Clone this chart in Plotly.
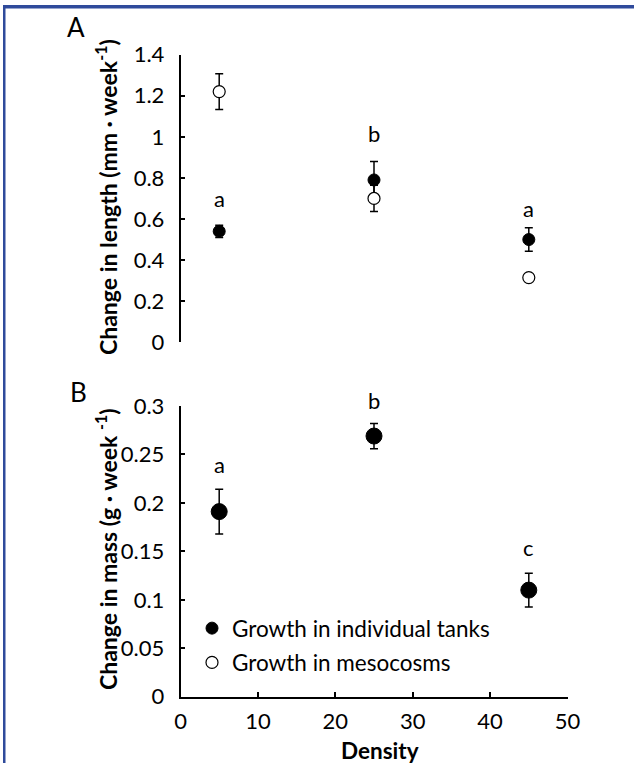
import plotly.graph_objects as go

# ---------------- data ----------------
density = [5, 25, 45]

length_tanks = [0.54, 0.79, 0.50]
length_tanks_err = [0.03, 0.09, 0.057]
length_meso = [1.22, 0.70, 0.315]
length_meso_err = [0.087, 0.064, 0.012]

mass_tanks = [0.191, 0.269, 0.110]
mass_tanks_err = [0.023, 0.013, 0.0174]

length_letters = ["a", "b", "a"]
mass_letters = ["a", "b", "c"]

x_ticks = [0, 10, 20, 30, 40, 50]
length_ticks = [0, 0.2, 0.4, 0.6, 0.8, 1.0, 1.2, 1.4]
length_ticklabels = ["0", "0.2", "0.4", "0.6", "0.8", "1", "1.2", "1.4"]
mass_ticks = [0, 0.05, 0.10, 0.15, 0.20, 0.25, 0.30]
mass_ticklabels = ["0", "0.05", "0.1", "0.15", "0.2", "0.25", "0.3"]

series_names = ["Growth in individual tanks", "Growth in mesocosms"]

# ---------------- layout helpers ----------------
W, H = 634, 763
FONT = "Lato"


def px(x):
    return x / W


def py(y):
    return 1 - y / H


fig = go.Figure()

err_style = dict(type="data", color="black", thickness=1.5, width=4)

# top panel
fig.add_trace(go.Scatter(
    x=density, y=length_tanks, mode="markers", name=series_names[0],
    marker=dict(symbol="circle", size=12, color="black", line=dict(color="black", width=1)),
    error_y=dict(array=length_tanks_err, **err_style),
    xaxis="x", yaxis="y", cliponaxis=False, legendgroup="g1", showlegend=True))
fig.add_trace(go.Scatter(
    x=density, y=length_meso, mode="markers", name=series_names[1],
    marker=dict(symbol="circle", size=12, color="white", line=dict(color="black", width=1.2)),
    error_y=dict(array=length_meso_err, **err_style),
    xaxis="x", yaxis="y", cliponaxis=False, legendgroup="g2", showlegend=True))

# bottom panel
fig.add_trace(go.Scatter(
    x=density, y=mass_tanks, mode="markers", name=series_names[0],
    marker=dict(symbol="circle", size=16, color="black", line=dict(color="black", width=1)),
    error_y=dict(array=mass_tanks_err, **err_style),
    xaxis="x2", yaxis="y2", cliponaxis=False, showlegend=False))

xdom = [px(180.5), px(567.5)]
axis_common = dict(showline=True, linecolor="black", linewidth=1.5, ticks="inside",
                   ticklen=5, tickwidth=1.5, tickcolor="black", showgrid=False,
                   zeroline=False, automargin=False,
                   tickfont=dict(family=FONT, size=22, color="black"))

fig.update_layout(
    width=W, height=H,
    margin=dict(l=0, r=0, t=0, b=0),
    paper_bgcolor="white", plot_bgcolor="rgba(0,0,0,0)",
    template="none",
    font=dict(family=FONT, size=22, color="black"),
    xaxis=dict(domain=xdom, range=[0, 50], visible=False, anchor="y"),
    yaxis=dict(domain=[py(342.3), py(54.6)], range=[0, 1.4], anchor="x",
               tickvals=length_ticks, ticktext=length_ticklabels,
               ticklabelstandoff=10, **axis_common),
    xaxis2=dict(domain=xdom, range=[0, 50], anchor="y2",
                tickvals=x_ticks, ticktext=[str(t) for t in x_ticks],
                ticklabelstandoff=4, **axis_common),
    yaxis2=dict(domain=[py(696.7), py(406)], range=[0, 0.3], anchor="x2",
                tickvals=mass_ticks, ticktext=mass_ticklabels,
                ticklabelstandoff=10, **axis_common),
    legend=dict(x=px(192), y=py(607), xanchor="left", yanchor="top",
                bgcolor="rgba(0,0,0,0)", borderwidth=0,
                font=dict(family=FONT, size=22.5, color="black"),
                tracegroupgap=2),
    showlegend=True,
)

annotations = []
# significance letters
letter_shift_top = [11, 12, 4]
for xv, yv, ev, lab, sh in zip(density, length_tanks, length_tanks_err, length_letters, letter_shift_top):
    annotations.append(dict(x=xv, y=yv + ev, xref="x", yref="y", text=lab, showarrow=False,
                            yanchor="bottom", yshift=sh, font=dict(family=FONT, size=22)))
letter_shift_bot = [9, 7, 10]
for xv, yv, ev, lab, sh in zip(density, mass_tanks, mass_tanks_err, mass_letters, letter_shift_bot):
    annotations.append(dict(x=xv, y=yv + ev, xref="x2", yref="y2", text=lab, showarrow=False,
                            yanchor="bottom", yshift=sh, font=dict(family=FONT, size=22)))

# panel letters
annotations.append(dict(x=px(76), y=py(27.5), xref="paper", yref="paper", text="A",
                        showarrow=False, xanchor="center", yanchor="middle",
                        font=dict(family=FONT, size=26)))
annotations.append(dict(x=px(78), y=py(392), xref="paper", yref="paper", text="B",
                        showarrow=False, xanchor="center", yanchor="middle",
                        font=dict(family=FONT, size=26)))

# axis titles
annotations.append(dict(x=px(106), y=py(197), xref="paper", yref="paper",
                        text="<b>Change in length (mm · week<sup>-1</sup>)</b>", textangle=-90,
                        showarrow=False, xanchor="center", yanchor="middle",
                        font=dict(family=FONT, size=23)))
annotations.append(dict(x=px(106), y=py(549), xref="paper", yref="paper",
                        text="<b>Change in mass (g · week <sup>-1</sup>)</b>", textangle=-90,
                        showarrow=False, xanchor="center", yanchor="middle",
                        font=dict(family=FONT, size=23)))
annotations.append(dict(x=px(380), y=py(750), xref="paper", yref="paper",
                        text="<b>Density</b>", showarrow=False, xanchor="center", yanchor="middle",
                        font=dict(family=FONT, size=22.5)))

fig.update_layout(annotations=annotations)

# frame (top and left edges), drawn as filled bands
border = "#2F4A9B"
fig.add_shape(type="rect", xref="paper", yref="paper", x0=px(3), x1=1, y0=py(8.5), y1=py(5),
              fillcolor=border, line=dict(width=0), layer="above")
fig.add_shape(type="rect", xref="paper", yref="paper", x0=px(3), x1=px(5.5), y0=0, y1=py(5),
              fillcolor=border, line=dict(width=0), layer="above")

fig.write_html("out.html", config={"displayModeBar": False},
               post_script="document.documentElement.style.overflow='hidden';document.body.style.margin='0';document.body.style.padding='0';document.body.style.overflow='hidden';")
